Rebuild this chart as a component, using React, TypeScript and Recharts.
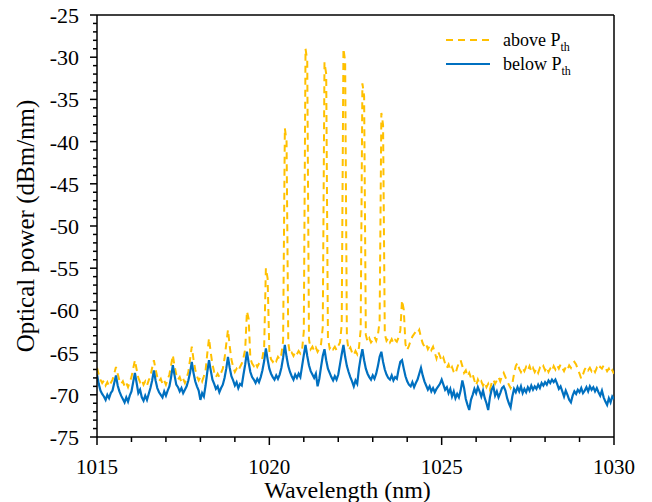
import { LineChart, Line, XAxis, YAxis, ReferenceLine, Legend, Label } from 'recharts'

const FONT = '"Liberation Serif", "Times New Roman", serif'
const YELLOW = '#FFC000'
const BLUE = '#0070C0'

// spectrum sampled every 0.05 nm from 1015 nm
const START_NM = 1015
const STEP_NM = 0.05

const abovePth = [
  -66.8, -67.6, -68.2, -68.6, -68.3, -68.9, -68.5, -69.0, -68.6, -68.2,
  -67.5, -66.7, -67.5, -68.3, -68.7, -68.4, -69.0, -68.6, -69.1, -68.5,
  -67.9, -66.9, -65.9, -67.0, -68.0, -68.5, -68.2, -68.8, -68.4, -68.9,
  -68.3, -67.8, -66.8, -65.9, -67.0, -67.9, -68.4, -68.1, -68.7, -68.3,
  -68.8, -68.2, -67.6, -66.5, -65.3, -66.6, -67.6, -68.2, -67.9, -68.5,
  -68.1, -68.6, -68.0, -67.3, -65.8, -64.3, -65.8, -67.0, -67.8, -68.3,
  -67.9, -68.4, -67.8, -67.1, -65.1, -63.3, -65.0, -66.4, -67.3, -67.9,
  -67.5, -67.9, -67.4, -66.9, -65.7, -64.0, -62.3, -64.2, -65.8, -66.7,
  -67.3, -66.9, -67.2, -66.7, -66.3, -65.6, -64.6, -60.1, -61.0, -65.7,
  -66.3, -66.6, -66.2, -66.7, -66.3, -66.0, -65.6, -64.3, -55.0, -56.2,
  -64.8, -65.8, -66.1, -65.7, -66.0, -65.5, -65.8, -65.2, -63.6, -38.4,
  -40.0, -63.9, -65.2, -65.0, -65.4, -64.9, -65.2, -64.8, -65.1, -64.7,
  -62.5, -29.0, -30.4, -63.4, -64.6, -64.3, -64.8, -64.4, -64.9, -64.5,
  -64.0, -62.0, -30.6, -32.0, -63.3, -64.5, -64.2, -64.6, -64.3, -64.7,
  -64.2, -63.8, -61.7, -29.0, -30.5, -63.2, -64.7, -64.4, -65.0, -65.3,
  -64.8, -65.2, -64.4, -62.3, -33.1, -34.6, -62.9, -63.7, -63.3, -63.8,
  -63.5, -63.1, -63.6, -62.9, -61.3, -36.6, -38.0, -62.8, -63.6, -63.3,
  -63.8, -63.4, -63.9, -63.5, -63.7, -63.2, -62.4, -58.8, -59.9, -64.0,
  -64.7, -64.2, -63.6, -63.1, -62.8, -62.5, -62.7, -62.3, -63.2, -63.9,
  -64.3, -64.0, -64.6, -64.2, -64.7, -64.3, -65.0, -65.7, -64.9, -65.4,
  -66.0, -65.6, -66.3, -66.8, -66.4, -67.1, -66.7, -67.3, -67.5, -66.8,
  -66.2, -65.9, -66.6, -67.4, -67.1, -67.8, -67.4, -68.0, -67.6, -68.3,
  -68.9, -68.2, -68.7, -68.4, -68.9, -68.5, -69.1, -68.7, -69.4, -68.6,
  -68.2, -68.7, -68.3, -67.9, -68.4, -67.8, -67.4, -67.9, -68.4, -68.8,
  -69.2, -68.7, -67.5, -66.6, -66.2, -66.9, -67.3, -66.8, -67.2, -66.7,
  -67.1, -66.6, -67.2, -66.8, -67.3, -66.9, -67.4, -66.8, -67.0, -66.6,
  -67.1, -66.7, -67.3, -66.9, -67.2, -66.6, -67.0, -66.5, -66.9, -66.4,
  -66.8, -67.2, -66.7, -67.0, -66.5, -66.8, -66.3, -66.1, -66.4, -67.0,
  -67.5, -68.1, -67.6, -67.0, -66.7, -67.1, -66.8, -67.2, -66.9, -67.3,
  -66.8, -67.1, -66.7, -66.9, -66.5, -66.8, -67.2, -66.9, -67.4, -67.1,
  -67.5,
]

const belowPth = [
  -67.6, -68.7, -69.5, -69.9, -70.2, -70.6, -70.0, -70.4, -69.8, -69.5,
  -68.6, -67.7, -68.9, -69.6, -70.1, -70.5, -70.9, -70.3, -70.8, -70.1,
  -69.6, -68.5, -67.4, -68.6, -69.8, -69.4, -70.3, -70.7, -70.1, -70.6,
  -69.9, -69.2, -68.3, -67.1, -68.3, -69.2, -69.7, -70.0, -70.3, -69.6,
  -70.1, -69.5, -69.0, -67.9, -66.5, -67.7, -68.8, -69.1, -69.6, -69.2,
  -69.8, -69.4, -69.0, -68.3, -67.4, -66.1, -67.4, -68.4, -69.0, -69.5,
  -70.6, -69.8, -70.2, -68.9, -67.3, -65.9, -67.1, -68.2, -68.7, -69.3,
  -69.0, -69.7, -69.2, -68.8, -68.0, -66.9, -65.5, -66.8, -67.8, -68.3,
  -68.9, -68.5, -69.2, -68.7, -68.9, -67.6, -66.4, -64.9, -66.2, -67.3,
  -67.9, -68.2, -68.6, -68.1, -68.5, -67.9, -67.1, -66.0, -64.5, -65.8,
  -66.9, -67.5, -67.9, -68.2, -67.7, -68.1, -67.6, -66.8, -65.6, -64.1,
  -65.5, -66.6, -67.3, -67.8, -68.2, -67.6, -68.0, -67.5, -67.9, -66.6,
  -65.3, -64.1, -65.4, -66.5, -67.2, -67.6, -68.0, -67.5, -69.0, -68.1,
  -66.7, -65.4, -64.6, -65.9, -66.9, -67.4, -67.9, -68.3, -67.8, -68.2,
  -67.6, -66.4, -65.2, -64.1, -65.5, -66.6, -67.3, -67.9, -68.4, -69.0,
  -68.3, -68.7, -66.9, -65.6, -64.6, -65.9, -66.9, -67.5, -67.9, -68.2,
  -67.7, -68.1, -67.5, -66.6, -65.5, -64.9, -66.1, -67.0, -67.6, -68.0,
  -68.2, -67.7, -68.3, -67.9, -68.1, -67.0, -66.1, -65.9, -66.9, -67.8,
  -68.4, -68.8, -69.0, -68.5, -69.1, -68.6, -68.2, -67.5, -66.8, -67.7,
  -68.4, -68.9, -69.4, -69.0, -69.6, -69.2, -69.7, -69.3, -69.0, -68.7,
  -68.2, -68.8, -69.4, -69.1, -69.8, -69.3, -70.2, -69.6, -70.4, -69.9,
  -70.3, -69.5, -68.3, -69.2, -70.5, -71.2, -71.8, -70.6, -70.0, -69.3,
  -69.8, -69.1, -69.6, -70.2, -69.5, -70.4, -71.0, -71.8, -70.3, -69.4,
  -69.0, -70.1, -69.6, -70.3, -69.8, -69.2, -69.0, -69.5, -70.4, -71.0,
  -71.5, -70.2, -69.3, -69.7, -69.1, -69.6, -69.0, -69.8, -69.3, -69.7,
  -69.1, -69.5, -68.9, -69.4, -69.0, -69.3, -68.8, -69.2, -68.6, -68.9,
  -68.5, -68.8, -68.3, -68.6, -68.2, -68.5, -68.2, -68.7, -69.3, -69.0,
  -69.6, -70.2, -69.5, -70.0, -70.6, -70.9, -70.1, -69.6, -69.9, -69.4,
  -69.7, -69.2, -69.8, -69.5, -69.1, -69.6, -69.0, -69.4, -69.1, -69.6,
  -69.2, -69.7, -70.1, -69.5, -70.3, -70.8, -71.2, -70.4, -70.9, -70.2,
  -70.5,
]

const xLabels = [1015, 1020, 1025, 1030]
const yLabels = [-75, -70, -65, -60, -55, -50, -45, -40, -35, -30, -25]
const xTicks = Array.from({ length: 16 }, (_, i) => 1015 + i)
const yTicks = Array.from({ length: 51 }, (_, i) => -75 + i)

const legendItems = [
  { key: 'above', text: 'above P', color: YELLOW, dash: '7 5' },
  { key: 'below', text: 'below P', color: BLUE, dash: undefined },
]

const data = abovePth.map((v, i) => ({
  wavelength: +(START_NM + i * STEP_NM).toFixed(2),
  above: v,
  below: belowPth[i],
}))

function XTick({ x, y, payload }: any) {
  const major = xLabels.includes(payload.value)
  return (
    <g>
      <line x1={x} x2={x} y1={y} y2={y + (major ? 8 : 5)} stroke="#000" strokeWidth={1.5} />
      {major && (
        <text x={x} y={y + 37} textAnchor="middle" fontSize={21} fontFamily={FONT} fill="#000">
          {payload.value}
        </text>
      )}
    </g>
  )
}

function YTick({ x, y, payload }: any) {
  const major = yLabels.includes(payload.value)
  return (
    <g>
      <line x1={x} x2={x - (major ? 7 : 4)} y1={y} y2={y} stroke="#000" strokeWidth={1.5} />
      {major && (
        <text x={x - 18} y={y + 8} textAnchor="end" fontSize={22} fontFamily={FONT} fill="#000">
          {payload.value}
        </text>
      )}
    </g>
  )
}

function LegendBox() {
  return (
    <div style={{ fontFamily: FONT, fontSize: 18, color: '#000' }}>
      {legendItems.map((it) => (
        <div key={it.key} style={{ display: 'flex', alignItems: 'center', height: 24 }}>
          <svg width={46} height={6} style={{ marginRight: 12 }}>
            <line x1={1} x2={45} y1={3} y2={3} stroke={it.color} strokeWidth={2} strokeDasharray={it.dash} />
          </svg>
          <span>
            {it.text}
            <span style={{ fontSize: 12, position: 'relative', top: 5 }}>th</span>
          </span>
        </div>
      ))}
    </div>
  )
}

export default function App() {
  return (
    <div style={{ position: 'absolute', left: 0, top: 0, background: '#fff' }}>
      <LineChart width={652} height={502} data={data} margin={{ top: 15, right: 38, bottom: 6, left: 0 }}>
        <XAxis
          type="number"
          dataKey="wavelength"
          domain={[1015, 1030]}
          ticks={xTicks}
          interval={0}
          allowDataOverflow
          height={59}
          tickSize={0}
          tickMargin={0}
          tickLine={false}
          axisLine={{ stroke: '#000', strokeWidth: 1.5 }}
          tick={<XTick />}
        >
          <Label value="Wavelength (nm)" position="insideBottom" offset={-2} dx={-8} fontSize={24} fontFamily={FONT} fill="#000" />
        </XAxis>
        <YAxis
          type="number"
          domain={[-75, -25]}
          ticks={yTicks}
          interval={0}
          allowDataOverflow
          width={97}
          tickSize={0}
          tickMargin={0}
          tickLine={false}
          axisLine={{ stroke: '#000', strokeWidth: 1.5 }}
          tick={<YTick />}
        >
          <Label
            value="Optical power (dBm/nm)"
            angle={-90}
            position="insideLeft"
            offset={25}
            fontSize={25}
            fontFamily={FONT}
            fill="#000"
            style={{ textAnchor: 'middle' }}
          />
        </YAxis>
        <ReferenceLine x={1030} stroke="#000" strokeWidth={1.5} />
        <ReferenceLine y={-25} stroke="#000" strokeWidth={1.5} />
        <Legend
          layout="horizontal"
          verticalAlign="middle"
          align="center"
          wrapperStyle={{ top: 28, left: 445, width: 190, height: 48 }}
          content={() => <LegendBox />}
        />
        <Line
          type="linear"
          dataKey="above"
          name="above P_th"
          stroke={YELLOW}
          strokeWidth={2}
          strokeDasharray="7 5"
          dot={false}
          activeDot={false}
          isAnimationActive={false}
        />
        <Line
          type="linear"
          dataKey="below"
          name="below P_th"
          stroke={BLUE}
          strokeWidth={2.2}
          dot={false}
          activeDot={false}
          isAnimationActive={false}
        />
      </LineChart>
    </div>
  )
}
